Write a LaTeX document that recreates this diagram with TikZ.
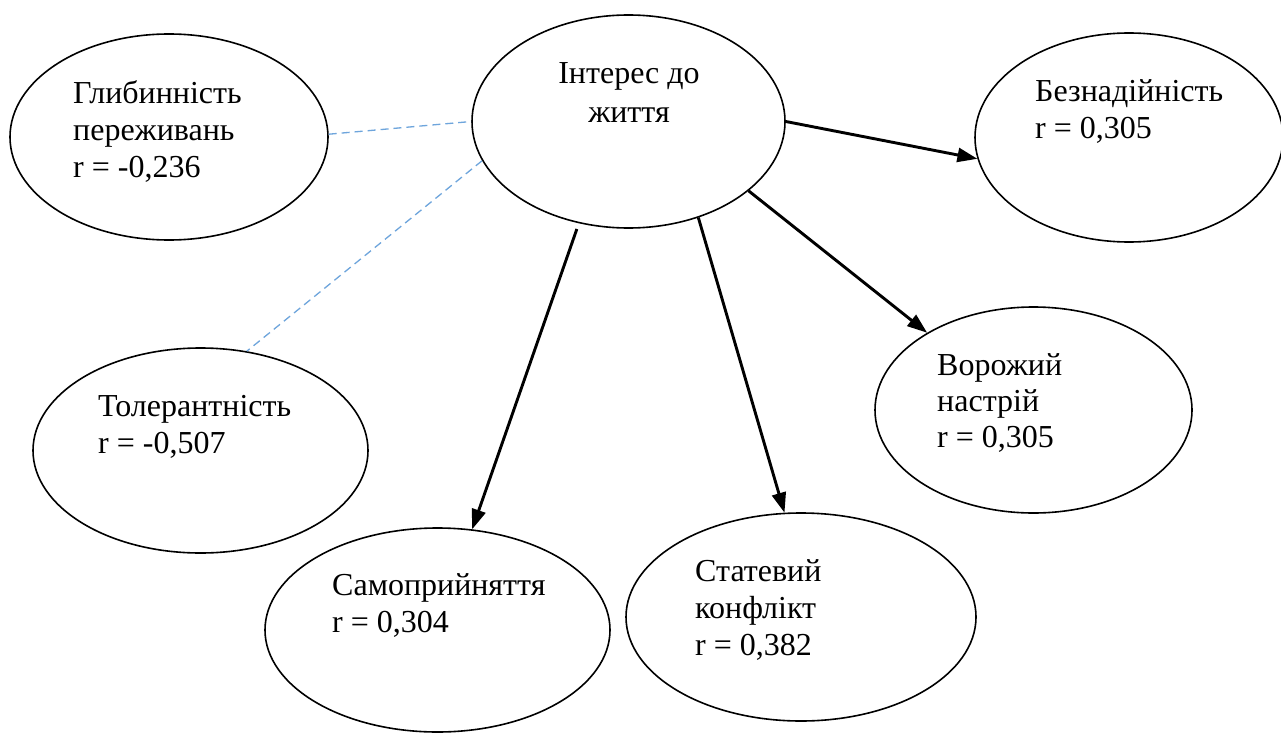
\documentclass[tikz,border=0pt]{standalone}
\usepackage{fontspec}
\setmainfont{Liberation Serif}
\usetikzlibrary{shapes.geometric,arrows.meta}
\definecolor{dashblue}{RGB}{110,165,220}
\tikzset{
  oval/.style={ellipse,draw=black,line width=1.6pt,inner sep=0pt,fill=none},
  lbl/.style={anchor=base west,align=left,inner sep=0pt,font=\fontsize{32}{37}\selectfont},
  arr/.style={line width=2.9pt,-{Triangle[length=20pt,width=14pt]}},
  weak/.style={dashblue,line width=1.3pt,dash pattern=on 8pt off 5pt}
}
\begin{document}
\begin{tikzpicture}[x=1pt,y=-1pt]
\clip (0,0) rectangle (1281,733);
\fill[white] (0,0) rectangle (1281,733);
% ellipses
\node[oval,minimum width=318pt,minimum height=206pt] (g) at (169,137) {};
\node[oval,minimum width=313pt,minimum height=213pt] (c) at (628.5,121.5) {};
\node[oval,minimum width=308pt,minimum height=209pt] (b) at (1129,137.5) {};
\node[oval,minimum width=335pt,minimum height=205pt] (t) at (200.5,450.5) {};
\node[oval,minimum width=317pt,minimum height=206pt] (v) at (1033.5,410) {};
\node[oval,minimum width=345pt,minimum height=204pt] (s) at (437.5,630) {};
\node[oval,minimum width=350pt,minimum height=208pt] (k) at (801,617) {};
% texts (anchored at the baseline of the last line)
\node[lbl] (gt) at (73,177) {Глибинність\\переживань\\r = -0,236};
\node[anchor=base,align=center,inner sep=0pt,font=\fontsize{32}{39}\selectfont] (ct) at (629,122) {Інтерес до\\життя};
\node[lbl] (bt) at (1035,139) {Безнадійність\\r = 0,305};
\node[lbl] (tt) at (98,453) {Толерантність\\r = -0,507};
\node[lbl,font=\fontsize{32}{36}\selectfont] (vt) at (937,447) {Ворожий\\настрій\\r = 0,305};
\node[lbl] (st) at (332,632) {Самоприйняття\\r = 0,304};
\node[lbl] (kt) at (695,655) {Статевий\\конфлікт\\r = 0,382};
% connectors
\draw[weak] (g.1.6) -- (c.180);
\draw[weak] (c.195.5) -- (t.65.6);
\draw[arr] (c.-0.2) -- (b.188);
\draw[arr] (c.-30.5) -- (v.144.6);
\draw[arr,shorten <=6pt] (c.244.8) -- (s.71);
\draw[arr] (c.-54.9) -- (k.99.8);
\end{tikzpicture}
\end{document}
